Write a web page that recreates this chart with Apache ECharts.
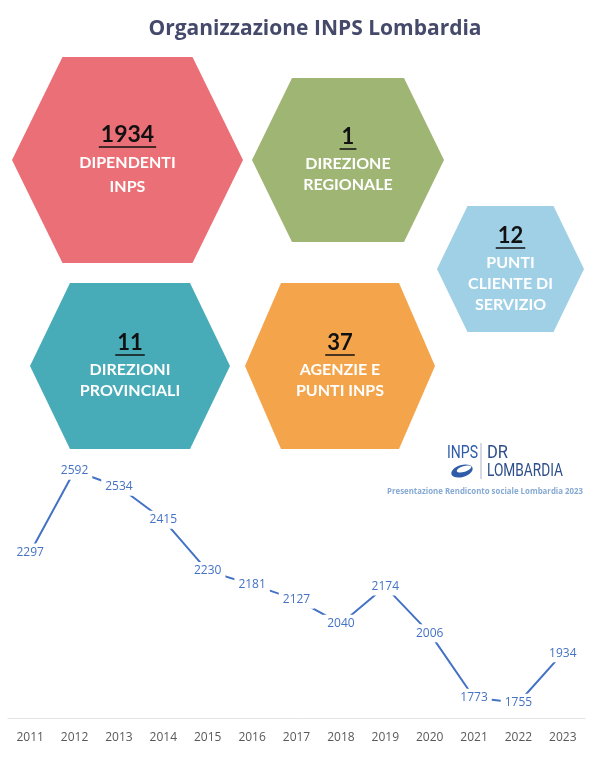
<!DOCTYPE html>
<html>
<head>
<meta charset="utf-8">
<script src="https://cdn.jsdelivr.net/npm/echarts@6/dist/echarts.min.js"></script>
<style>
  html, body { margin: 0; padding: 0; background: #fff; }
  #chart { width: 600px; height: 758px; }
</style>
</head>
<body>
<div id="chart"></div>
<script>
// dati della serie storica dei dipendenti
const years = ["2011", "2012", "2013", "2014", "2015", "2016", "2017", "2018", "2019", "2020", "2021", "2022", "2023"];
const employees = [2297, 2592, 2534, 2415, 2230, 2181, 2127, 2040, 2174, 2006, 1773, 1755, 1934];

// dati dei riquadri esagonali
const hexValues = [1934, 1, 12, 11, 37];
const hexLabels = [
  ["DIPENDENTI", "INPS"],
  ["DIREZIONE", "REGIONALE"],
  ["PUNTI", "CLIENTE DI", "SERVIZIO"],
  ["DIREZIONI", "PROVINCIALI"],
  ["AGENZIE E", "PUNTI INPS"]
];

// layout esagoni: centro, semi-larghezza, semi-altezza, semi-lato superiore
const hexLayout = [
  { cx: 127.5, cy: 160, w: 115.5, h: 103, t: 65, color: "#EB6F76", numY: 135, lineY: 163, gap: 24, numSize: 23 },
  { cx: 348, cy: 160, w: 96, h: 82, t: 56, color: "#9FB574", numY: 137, lineY: 164, gap: 21, numSize: 22 },
  { cx: 510.5, cy: 269, w: 73.5, h: 63, t: 43, color: "#9FD0E6", numY: 236, lineY: 263, gap: 21, numSize: 22 },
  { cx: 130, cy: 366, w: 100, h: 83, t: 60, color: "#47ABB8", numY: 343, lineY: 370, gap: 21, numSize: 22 },
  { cx: 340, cy: 366, w: 95, h: 83, t: 59, color: "#F4A54B", numY: 343, lineY: 370, gap: 21, numSize: 22 }
];

const fontFamily = "Lato, 'Noto Sans', sans-serif";
const logoFont = "Roboto, sans-serif";

// misura del testo (sottolineatura e compressione del logo)
const measureCtx = document.createElement("canvas").getContext("2d");
function textWidth(txt, font) {
  measureCtx.font = font;
  return measureCtx.measureText(txt).width;
}

function buildHexGraphics() {
  const items = [];
  hexLayout.forEach((hx, i) => {
    const { cx, cy, w, h, t } = hx;
    items.push({
      type: "polygon",
      shape: { points: [[cx - w, cy], [cx - t, cy - h], [cx + t, cy - h], [cx + w, cy], [cx + t, cy + h], [cx - t, cy + h]] },
      style: { fill: hx.color }
    });
    const num = String(hexValues[i]);
    const numFont = "bold " + hx.numSize + "px " + fontFamily;
    items.push({
      type: "text",
      x: cx, y: hx.numY,
      style: { text: num, fill: "#111", font: numFont, textAlign: "center", textVerticalAlign: "middle" }
    });
    const uw = textWidth(num, numFont) + 4;
    items.push({
      type: "line",
      shape: { x1: cx - uw / 2, y1: hx.numY + 12, x2: cx + uw / 2, y2: hx.numY + 12 },
      style: { stroke: "#111", lineWidth: 1.5 }
    });
    hexLabels[i].forEach((lbl, k) => {
      items.push({
        type: "text",
        x: cx, y: hx.lineY + k * hx.gap,
        style: { text: lbl, fill: "#fff", font: "bold 16px " + fontFamily, textAlign: "center", textVerticalAlign: "middle" }
      });
    });
  });
  return items;
}

// testo compresso orizzontalmente fino alla larghezza voluta
function squeezedText(txt, x, y, font, targetW, color, align) {
  const sx = targetW / textWidth(txt, font);
  return {
    type: "text", x: x, y: y, scaleX: sx,
    style: { text: txt, fill: color, font: font, textAlign: align || "left", textVerticalAlign: "middle" }
  };
}

// logo INPS DR Lombardia
function buildLogo() {
  const f = "19px " + logoFont;
  return [
    squeezedText("INPS", 447, 453, f, 31, "#2E5CA8"),
    { type: "line", shape: { x1: 481, y1: 443, x2: 481, y2: 479 }, style: { stroke: "#AAB4C6", lineWidth: 1 } },
    squeezedText("DR", 487, 453, f, 21, "#2D4E8A"),
    squeezedText("LOMBARDIA", 487, 471, f, 76, "#2D4E8A"),
    { type: "ellipse", x: 462, y: 471, rotation: 0.3, shape: { cx: 0, cy: 0, rx: 11, ry: 6 }, style: { fill: "#2E5CA8" } },
    { type: "ellipse", x: 464, y: 469, rotation: 0.3, shape: { cx: 0, cy: 0, rx: 7.5, ry: 2.8 }, style: { fill: "#fff" } },
    squeezedText("Presentazione Rendiconto sociale Lombardia 2023", 485, 491, "bold 9px 'Open Sans', sans-serif", 196, "#86AAD3", "center")
  ];
}

const chart = echarts.init(document.getElementById("chart"), null, { renderer: "canvas" });

const option = {
  backgroundColor: "#fff",
  animation: false,
  title: {
    text: "Organizzazione INPS Lombardia",
    left: 310, top: 14,
    textAlign: "center",
    textStyle: { color: "#454A6B", fontSize: 21, fontWeight: "bold", fontFamily: "'Open Sans', sans-serif" }
  },
  graphic: buildHexGraphics().concat(buildLogo()),
  grid: { left: 8, right: 15, top: 468.5, bottom: 40 },
  xAxis: {
    type: "category",
    data: years,
    boundaryGap: true,
    axisLine: { lineStyle: { color: "#E3E3E3", width: 1 } },
    axisTick: { show: false },
    axisLabel: { color: "#595959", fontSize: 12, margin: 14, fontFamily: "'Open Sans', sans-serif" }
  },
  yAxis: {
    type: "value",
    min: 1700, max: 2600,
    show: false,
    splitLine: { show: false }
  },
  series: [{
    type: "line",
    data: employees,
    showSymbol: true,
    symbol: "circle",
    symbolSize: 0.1,
    itemStyle: { color: "#4472C4" },
    lineStyle: { color: "#4472C4", width: 2 },
    label: {
      show: true,
      position: "inside",
      color: "#4472C4",
      fontSize: 12,
      fontFamily: "'Open Sans', sans-serif",
      backgroundColor: "#fff",
      padding: [3, 4]
    }
  }]
};

chart.setOption(option);
</script>
</body>
</html>
